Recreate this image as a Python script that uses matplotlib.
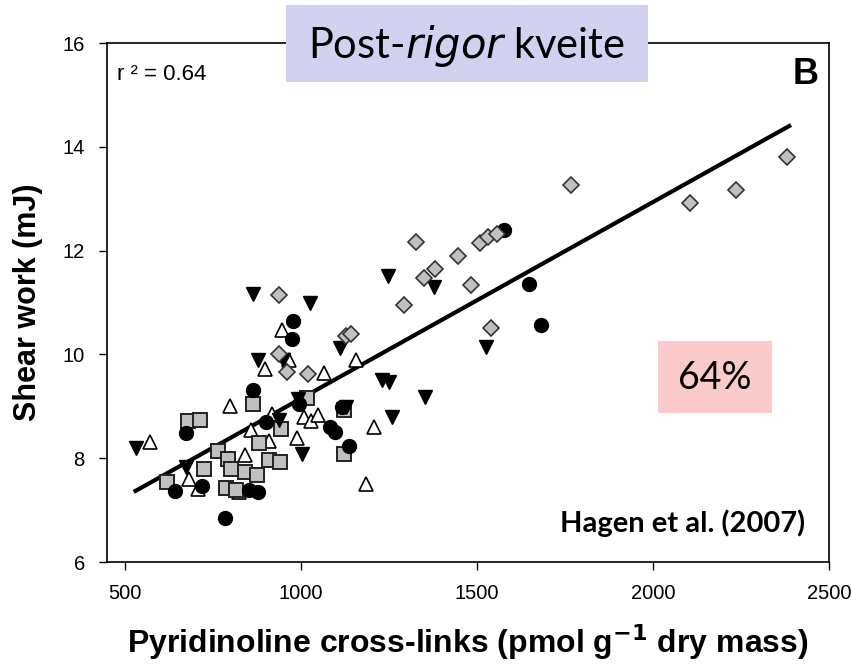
import numpy as np
import matplotlib
matplotlib.use('Agg')
import matplotlib.pyplot as plt
from matplotlib.patches import Rectangle

plt.rcParams['font.family'] = ['Liberation Sans', 'DejaVu Sans']

# data (pyridinoline, shear work)
circ_x = [642, 675, 720, 784, 853, 878, 865, 901, 977, 976, 996, 1083, 1096, 1117, 1138, 1576, 1648, 1682]
circ_y = [7.37, 8.49, 7.47, 6.84, 7.38, 7.34, 9.31, 8.70, 10.65, 10.30, 9.04, 8.60, 8.50, 8.98, 8.23, 12.40, 11.35, 10.57]

tri_dn_x = [531, 675, 865, 880, 950, 938, 992, 1005, 1025, 1112, 1128, 1232, 1251, 1247, 1258, 1353, 1379, 1525]
tri_dn_y = [8.19, 7.83, 11.16, 9.90, 9.89, 8.74, 9.14, 8.08, 11.00, 10.12, 8.99, 9.51, 9.47, 11.52, 8.79, 9.17, 11.30, 10.15]

tri_up_x = [571, 682, 708, 799, 826, 842, 859, 910, 918, 900, 946, 967, 990, 1008, 1028, 1048, 1066, 1156, 1209, 1184]
tri_up_y = [8.32, 7.60, 7.40, 9.01, 7.34, 8.07, 8.54, 8.34, 8.85, 9.71, 10.48, 9.89, 8.38, 8.80, 8.71, 8.83, 9.65, 9.89, 8.61, 7.50]

sq_x = [621, 679, 715, 725, 766, 793, 802, 788, 815, 843, 875, 865, 882, 910, 941, 945, 1018, 1122, 1122]
sq_y = [7.55, 8.71, 8.74, 7.79, 8.14, 7.98, 7.79, 7.42, 7.39, 7.74, 7.68, 9.04, 8.30, 7.97, 7.92, 8.56, 9.16, 8.92, 8.09]

dia_x = [937, 939, 960, 1021, 1129, 1144, 1294, 1327, 1350, 1381, 1447, 1484, 1509, 1532, 1556, 1540, 1767, 2105, 2235, 2381]
dia_y = [11.14, 10.01, 9.66, 9.62, 10.35, 10.39, 10.95, 12.16, 11.47, 11.65, 11.90, 11.34, 12.14, 12.26, 12.32, 10.50, 13.26, 12.91, 13.17, 13.80]

# reported regression line
fit_x = [531, 2387]
fit_slope = 0.003788
fit_icpt = 5.359

fig = plt.figure(figsize=(8.52, 6.64), dpi=100)
ax = fig.add_axes([0.1256, 0.1536, 0.8474, 0.7816])

fx = np.array(fit_x)
ax.plot(fx, fit_icpt + fit_slope * fx, color='black', lw=3, zorder=1)

ax.plot(tri_up_x, tri_up_y, '^', ms=10, mfc='white', mec='black', mew=1.2, ls='none', zorder=2)
ax.plot(sq_x, sq_y, 's', ms=9.5, mfc='#c0c0c0', mec='#222222', mew=1.4, ls='none', zorder=3)
ax.plot(circ_x, circ_y, 'o', ms=10, mfc='black', mec='black', ls='none', zorder=4)
ax.plot(tri_dn_x, tri_dn_y, 'v', ms=10, mfc='black', mec='black', ls='none', zorder=5)
ax.plot(dia_x, dia_y, 'D', ms=8, mfc='#c0c0c0', mec='#333333', mew=1.2, ls='none', zorder=6)

ax.set_xlim(450, 2500)
ax.set_ylim(6, 16)
ax.set_xticks([500, 1000, 1500, 2000, 2500])
ax.set_yticks([6, 8, 10, 12, 14, 16])
ax.tick_params(direction='out', length=6, width=1, labelsize=14.5, pad=10)
for s in ax.spines.values():
    s.set_linewidth(1.2)

ax.set_xlabel('Pyridinoline cross-links (pmol g$^{\\mathbf{-1}}$ dry mass)', fontsize=23, fontweight='bold', labelpad=14)
ax.set_ylabel('Shear work (mJ)', fontsize=22, fontweight='bold', labelpad=14)

ax.text(0.014, 0.94, 'r ² = 0.64', transform=ax.transAxes, fontsize=16, va='center', ha='left')
ax.text(0.985, 0.94, 'B', transform=ax.transAxes, fontsize=26, fontweight='bold', va='center', ha='right')
ax.text(0.967, 0.075, 'Hagen et al. (2007)', transform=ax.transAxes, fontsize=21, fontweight='bold',
        va='center', ha='right', family=['Lato', 'DejaVu Sans'])

# title box
W, H = 852, 664
fig.add_artist(Rectangle((286 / W, 1 - 82 / H), 362 / W, 77 / H, transform=fig.transFigure,
                         facecolor='#d2d2f0', edgecolor='none', zorder=10))
fig.text(467 / W, 1 - 46 / H, 'Post-$\\it{rigor}$ kveite', fontsize=30, ha='center', va='center',
         family=['Lato', 'DejaVu Sans'], zorder=11)

# 64 % box
fig.add_artist(Rectangle((658 / W, 1 - 413 / H), 114 / W, 72 / H, transform=fig.transFigure,
                         facecolor='#fbcaca', edgecolor='none', zorder=10))
fig.text(715 / W, 1 - 378 / H, '64%', fontsize=27, ha='center', va='center',
         family=['Lato', 'DejaVu Sans'], zorder=11)

fig.savefig('out.png', dpi=100)
